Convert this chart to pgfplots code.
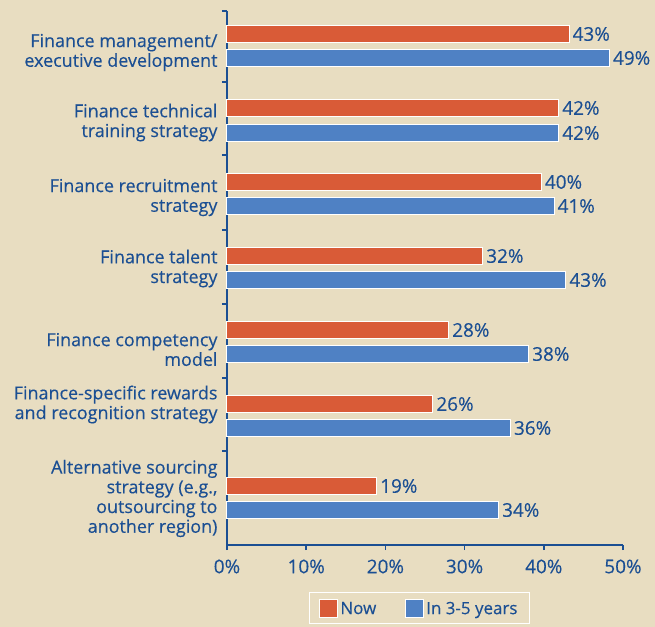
\documentclass[border=0pt]{standalone}
\usepackage{pgfplots}
\pgfplotsset{compat=1.18}
\usepackage{pgfplotstable}
\usepackage{fontspec}
\setmainfont{Open Sans}
\newfontfamily\medfont{Open Sans}[FakeBold=0.3]
\definecolor{bgc}{HTML}{E8DDC1}
\definecolor{nowc}{HTML}{D95B37}
\definecolor{futc}{HTML}{4F81C4}
\definecolor{txt}{HTML}{1B4F93}
\newcommand{\cf}{\medfont\fontsize{18}{19.8}\selectfont}
\newcommand{\nf}{\medfont\fontsize{19}{20}\selectfont}
\newcommand{\lf}{\medfont\fontsize{17}{20}\selectfont}
\pgfplotstableread{
y val lab
511 43.2 43
437 41.9 42
363 39.7 40
289 32.3 32
215 28.0 28
141 26.0 26
59 18.9 19
}\nowtable
\pgfplotstableread{
y val lab
487 48.3 49
412 41.9 42
339 41.3 41
265 42.8 43
191 38.1 38
117 35.8 36
35 34.3 34
}\futtable
\begin{document}
\begin{tikzpicture}
\fill[bgc] (-227bp,-82bp) rectangle (428bp,545bp);
\begin{axis}[
  at={(0,0)}, anchor=south west,
  scale only axis, width=396bp, height=534bp,
  xmin=0, xmax=50, ymin=0, ymax=534,
  axis lines*=left,
  axis line style={draw=txt, line width=1.6bp},
  xbar, bar width=17.5bp, bar shift=0pt,
  xtick={0,10,20,30,40,50},
  xticklabels={0\%,10\%,20\%,30\%,40\%,50\%},
  ytick={94,167,241,315,390,463,534},
  yticklabels={},
  extra y ticks={46.5,140.5,195.5,276.5,347.5,422.5,492.5},
  extra y tick labels={
    {Alternative sourcing\\strategy (e.g.,\\outsourcing to\\another region)},
    {Finance-specific rewards\\and recognition strategy},
    {Finance competency\\model},
    {Finance talent\\strategy},
    {Finance recruitment\\strategy},
    {Finance technical\\training strategy},
    {Finance management/\\executive development}},
  extra y tick style={major tick length=0pt, tick label style={align=right, xshift=-6bp, font=\cf}},
  tick align=outside, major tick length=5bp,
  tick style={draw=txt, line width=1.6bp},
  tick label style={font=\nf, text=txt},
  xticklabel style={yshift=-6bp},
  /pgf/number format/assume math mode=true,
  nodes near coords={\pgfmathprintnumber{\pgfplotspointmeta}\%},
  nodes near coords align=horizontal,
  point meta=explicit,
  nodes near coords style={font=\nf, text=txt, inner sep=3bp},
  legend columns=2,
  legend style={at={(0.486,-0.088)}, anchor=north, draw=white, line width=1.5bp, fill=bgc,
    font=\lf, text=txt, inner xsep=10bp, inner ysep=6bp,
    /tikz/every even column/.append style={column sep=27bp}},
  legend image code/.code={\draw[#1,draw=white,line width=1bp] (0bp,-8.5bp) rectangle (18bp,9.5bp);},
  clip=false,
]
\addplot[fill=nowc, draw=white, line width=1bp] table[x=val, y=y, meta=lab] {\nowtable};
\addplot[fill=futc, draw=white, line width=1bp] table[x=val, y=y, meta=lab] {\futtable};
\legend{Now, In 3-5 years}
\end{axis}
\pgfresetboundingbox
\path[use as bounding box] (-227bp,-82bp) rectangle (428bp,545bp);
\end{tikzpicture}
\end{document}
